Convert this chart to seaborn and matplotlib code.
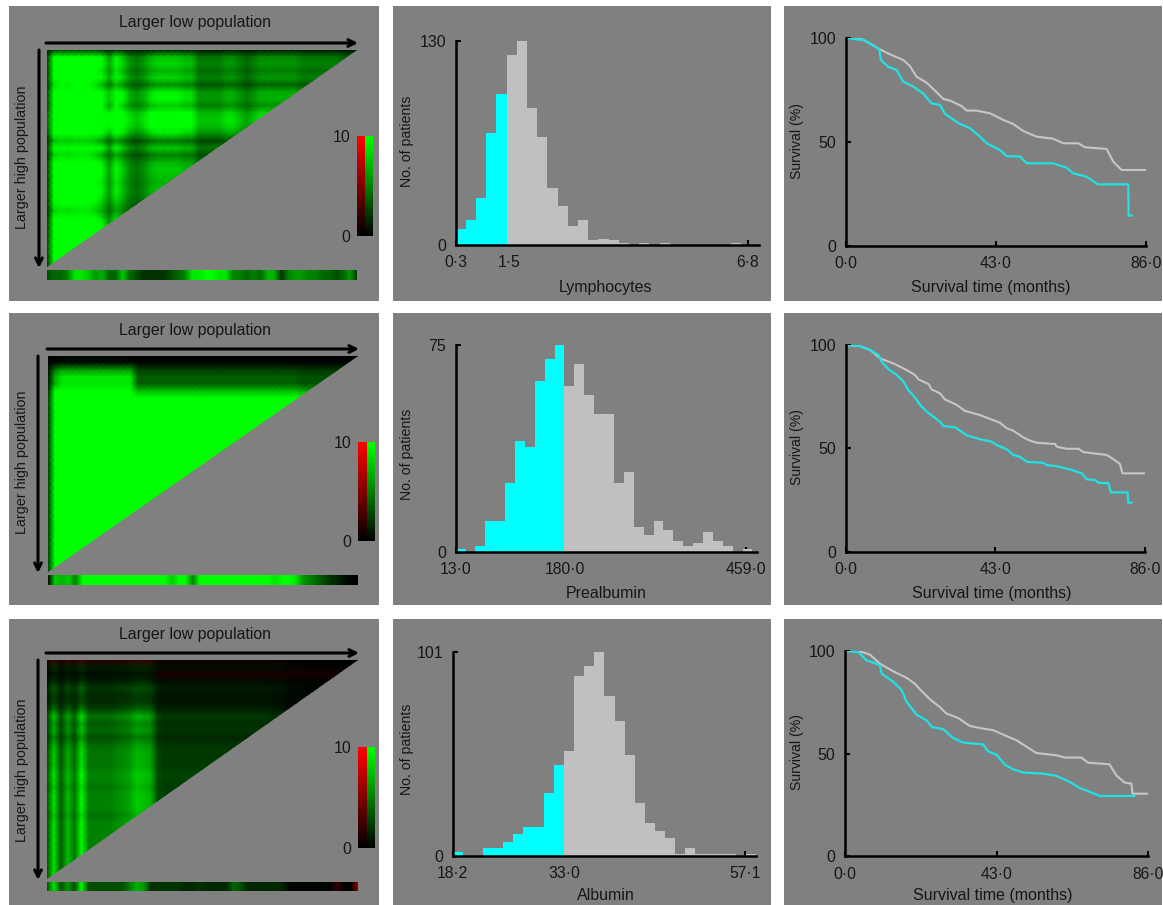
import numpy as np
import matplotlib
matplotlib.use("Agg")
import matplotlib.pyplot as plt
from matplotlib.colors import LinearSegmentedColormap
from matplotlib.patches import Polygon
import seaborn as sns

# Heatmap profiles (one value per column / per row)
heat_cols_1 = [3, 16, 18, 17, 18, 18, 18, 16, 13, 8, 13, 10, 7, 6, 7, 9, 10, 10, 10, 10, 9, 9, 6,
               6, 6, 6, 7, 7, 6, 5, 6, 7, 7, 7, 7, 7, 7, 6, 6, 6, 6, 6, 6, 5, 5, 5]
heat_rows_1 = [.15, .75, .85, .7, .85, .55, .95, 1, .8, 1.2, 1.3, 1.2, .9, .45, .8, .5, .7, .8,
               .75, .7, .75, .7, .6, .5, .65, .8, .8, .9, .9, .9, .7, .6]
strip_1 = [3, 4, 4, 5, 9, 9, 8, 6, 7, 4, 4, 8, 4, 3, 2, 2, 2, 2, 3, 4, 5, 9, 9, 10, 10, 9, 9,
           5, 5, 4, 5, 4, 7, 7, 2, 5, 6, 6, 5, 5, 4, 4, 3, 4, 6, 2]

heat_cols_2 = [1.5, 15, 20, 20, 20, 20, 20, 20, 20, 20, 20, 20, 20, 8, 8, 8, 8, 8, 8, 8, 8, 8, 8,
               8, 8, 8, 8, 8, 8, 8, 8, 8, 8, 8, 8, 8, 8, 7, 7, 7, 7, 7, 7, 7, 7, 7]
heat_rows_2 = [0, .03, .3, .45, .45, .9, 1.5, 1.5, 1.5, 1.5, 1.5, 1.5, 1.5, 1.5, 1.5, 1.5, 1.5,
               1.5, 1.5, 1.5, 1.5, 1.5, 1.5, 1.5, 1.5, 1.5, 1.5, 1.5, 1.5, 1.5, 1.5, 1.5]
strip_2 = [0, 8, 7, 8, 5, 10, 10, 10, 10, 10, 10, 10, 10, 10, 10, 10, 10, 10, 8, 10, 10, 5, 10,
           10, 10, 10, 10, 10, 10, 10, 10, 10, 10, 9, 10, 10, 9, 6, 5, 4, 3, 2, 1.5, .5, .3, 0]

heat_cols_3 = [3, 9, 3.5, 7.5, 4.5, 10, 5, 5, 5, 5, 5.5, 6, 6.5, 8, 7.5, 7, 3, 2.5, 2.5, 2.5, 2.5, 2.5, 2.5, 2.5, 2.5, 2.5,
               2.5, 2.5, 2.5, 2.5, 2.5, 2.5, 2.5, 2, 2, 1, 1, 1, .5, .5, .5, .5, .5, .5, .5, .5]
heat_rows_3 = [-.3, .2, .1, .2, .4, .3, .3, .5, .9, .7, .8, .6, .8, .9, .9, .9, 1, 1, .9, 1, 1, 1,
               .9, 1, 1, 1, 1, 1, 1, 1, 1, 1]
strip_3 = [3, 9, 3, 6, 3, 10, 3, 3, 3, 3, 3, 3, 5, 7, 6, 2, 2, 2, 2, 2, 1.5, 1.5, 2, 1.5, 1.5,
           1.5, 1.5, 4, 3, 1.5, 1.5, 1.5, 1.5, 1.5, 1.5, .2, .2, .2, .2, .2, .2, .2, -2, 0, 0, -6]

# Histogram counts per bin
lymph_counts = [10, 16, 30, 71, 96, 121, 130, 87, 69, 36, 25, 12, 16, 3, 4, 3, 1, 0, 1, 0, 1, 0,
                0, 0, 0, 0, 0, 1, 0, 0]
prealb_counts = [1, 0, 2, 11, 11, 25, 40, 38, 62, 70, 75, 60, 68, 57, 50, 50, 25, 29, 9, 6, 11, 8,
                 4, 2, 3, 7, 4, 2, 0, 1]
album_counts = [2, 0, 0, 4, 4, 7, 11, 14, 14, 31, 45, 52, 89, 94, 101, 79, 67, 50, 26, 16, 12, 9,
                1, 4, 1, 1, 1, 1, 0, 1]

# Survival curves (months, percent)
gray_t_1 = [0, 3.2, 5.1, 7.4, 9.8, 12.7, 16.5, 18.4, 20.3, 23.2, 25.6, 28, 29.9, 33.2, 34.7, 37.5,
            41.4, 45.2, 48, 50.9, 54.7, 59.5, 62.4, 66.7, 68.6, 74.8, 76.7, 79.1, 86]
gray_s_1 = [100, 100, 98.9, 96.8, 94.4, 92, 89.3, 86.4, 81.3, 78.4, 74.6, 70.6, 69.8, 67.2, 65, 65,
            63.7, 60.5, 58.6, 55.2, 52.5, 51.5, 49.3, 49.3, 47.4, 46.6, 40.5, 36.5, 36.5]
cyan_t_1 = [0, 3.2, 5.1, 7.4, 9.6, 10.1, 12.2, 14.6, 16.5, 19.4, 22.2, 24.6, 27, 28.5, 32.3, 35.6,
            38.5, 40.4, 44.2, 46.1, 50, 51.9, 59.5, 63.3, 65.2, 69, 72.3, 81, 81.1, 82.1]
cyan_s_1 = [100, 99.2, 98.9, 96.8, 94.4, 89.3, 86, 84.5, 78.9, 76.5, 73.3, 68.5, 67.7, 63.4, 59, 56.6,
            52.5, 49.3, 46.1, 43.2, 42.9, 39.7, 39.7, 37.6, 34.9, 33.3, 29.6, 29.6, 14.6, 14.6]

gray_t_2 = [0, 4.1, 7, 9.9, 13.7, 17.5, 19.9, 20.9, 23.8, 24.7, 27.1, 28.5, 31.9, 34.3, 38.6, 44.3,
            46.3, 48.2, 51, 53, 54.9, 60.2, 60.6, 63.5, 66.9, 68.3, 75, 76.9, 78.8, 79.5, 86]
gray_s_2 = [100, 99.5, 97.6, 93.5, 91.1, 87.9, 85.5, 83.4, 81.1, 78.5, 76.6, 73.7, 71, 68.1, 66.1, 62.4,
            59.7, 58.5, 55.3, 53.7, 52.7, 52.1, 50.8, 49.8, 49.8, 48.2, 46.8, 44.8, 42.4, 37.9, 37.9]
cyan_t_2 = [0, 4.1, 7, 9.4, 10.3, 12.3, 14.7, 16.6, 18, 19.9, 21.4, 23.3, 25.2, 27.1, 28.1, 31.4, 34.8,
            38.6, 42, 43.4, 46.3, 48.2, 50.1, 52, 56.8, 57.8, 60.6, 64.5, 67.8, 69.3, 71.6, 72.6, 75.5,
            76.2, 81, 81.2, 82.2]
cyan_s_2 = [100, 99.5, 97.6, 95.2, 92, 88.3, 85.5, 82.3, 78.2, 74.7, 71, 67.7, 65.3, 62.9, 60.8, 60.2, 56.3,
            54.4, 53.2, 51.6, 49.5, 46.8, 45.9, 43.5, 43, 41.9, 41.4, 39.8, 37.9, 35, 34.7, 33.4, 33.1,
            28.7, 28.7, 23.7, 23.7]

gray_t_3 = [0, 4.3, 7.1, 9.9, 13.7, 17.5, 19.8, 21.3, 24.1, 26.9, 28.8, 32.1, 35.4, 38.3, 42.1, 45.8,
            48.7, 54.3, 60, 62.4, 67.1, 69, 75.1, 77, 79.4, 81.3, 81.6, 86]
gray_s_3 = [100, 99.8, 98.2, 93.8, 90.1, 86.9, 84.1, 81.3, 76.5, 72.7, 69.5, 67.4, 63.5, 62.5, 61.4, 58.6,
            56.5, 50.3, 49.2, 48.1, 48.1, 45.6, 44.8, 39.4, 35.9, 35.4, 30.5, 30.5]
cyan_t_3 = [0, 3.8, 6.1, 9.9, 10.4, 13.7, 16.1, 17.5, 20.3, 23.2, 24.6, 27.9, 30.7, 33.6, 39.2, 40.6,
            43, 45.4, 47.7, 50.6, 56.2, 60, 63.8, 66.6, 69.5, 72.3, 82.2]
cyan_s_3 = [100, 99.5, 95.5, 93.1, 89, 85, 80.9, 75.2, 69, 66.2, 63, 61.9, 57.6, 55.4, 54.5, 51.1,
            49.5, 44.6, 42.4, 40.8, 40.3, 39.2, 36.2, 33.3, 31.4, 29.4, 29.4]

W, H = 1163, 905
BG = "#808080"
CYAN = "#00FFFF"
BAR_GRAY = "#C0C0C0"
LINE_CYAN = "#1FE3E3"
LINE_GRAY = "#C6C6C6"
TEXT = "#161616"

sns.set_theme(style="white")
plt.rcParams["font.family"] = ["Liberation Sans", "DejaVu Sans"]
plt.rcParams["text.color"] = TEXT
plt.rcParams["axes.labelcolor"] = TEXT
plt.rcParams["xtick.color"] = "black"
plt.rcParams["ytick.color"] = "black"

fig = plt.figure(figsize=(W / 100, H / 100), dpi=100, facecolor="white")


def px_axes(x0, y0, x1, y1, zorder=1):
    return fig.add_axes([x0 / W, 1 - y1 / H, (x1 - x0) / W, (y1 - y0) / H], zorder=zorder)


# Overlay in pixel coordinates for the arrows and free text
overlay = px_axes(0, 0, W, H, zorder=5)
overlay.set_xlim(0, W)
overlay.set_ylim(H, 0)
overlay.axis("off")

# Gray panels
col_px = [(9, 379), (393, 771), (784, 1162)]
row_px = [(6, 301), (313, 605), (619, 905)]
for cx in col_px:
    for ry in row_px:
        bg = px_axes(cx[0], ry[0], cx[1], ry[1], zorder=0)
        bg.set_facecolor(BG)
        bg.set_xticks([])
        bg.set_yticks([])
        sns.despine(ax=bg, left=True, bottom=True)

rg_cmap = LinearSegmentedColormap.from_list("rg", ["#FF0000", "#000000", "#00FF00"])
heat_kws = dict(cmap=rg_cmap, vmin=-10, vmax=10, cbar=False, xticklabels=False, yticklabels=False)

# ----- left column: triangular heatmaps -----
heat_panels = [
    (heat_cols_1, heat_rows_1, strip_1, (47, 50, 357, 267), (270, 280), (357, 373, 136, 236), 43, 39, 23, 157),
    (heat_cols_2, heat_rows_2, strip_2, (48, 356, 358, 572), (575, 585), (358, 375, 442, 541), 349, 38, 330, 462),
    (heat_cols_3, heat_rows_3, strip_3, (47, 660, 358, 879), (882, 891), (358, 375, 747, 848), 653, 38, 634, 770),
]

for i, (cols, rows, strip, box, sy, cb, arrow_y, arrow_x, title_y, side_y) in enumerate(heat_panels):
    ax = px_axes(box[0], box[1], box[2], box[3], zorder=2)
    mat = np.outer(rows, cols) * 1.0
    if i == 2:
        # faint red band near the top right of the albumin map
        mat[2, 16:] = -1
    # gouraud shading gives the soft look of the original
    sns.heatmap(mat, ax=ax, shading="gouraud", **heat_kws)
    nc, nr = len(cols) - 1, len(rows) - 1
    ax.set_xlim(0, nc)
    ax.set_ylim(nr, 0)
    ax.patch.set_alpha(0)
    tri = Polygon([(0, 0), (nc, 0), (0, nr)], transform=ax.transData, fc="none", ec="none")
    ax.add_patch(tri)
    ax.collections[0].set_clip_path(tri)

    sax = px_axes(box[0], sy[0], box[2], sy[1], zorder=2)
    sns.heatmap(np.array([strip, strip], dtype=float), ax=sax, shading="gouraud", **heat_kws)
    sax.set_xlim(0, len(strip) - 1)
    sax.set_ylim(1, 0)

    # colour key, red and green columns
    cax = px_axes(cb[0], cb[2], cb[1], cb[3], zorder=2)
    key = np.linspace(10, 0, 60)
    sns.heatmap(np.column_stack([-key, key]), ax=cax, **heat_kws)
    cax.set_yticks([0, 60])
    cax.set_yticklabels(["10", "0"], rotation=0, fontsize=11.5, color=TEXT)
    cax.tick_params(axis="y", length=0, pad=5, left=False)

    overlay.annotate("", xy=(box[2] + 1, arrow_y), xytext=(box[0] - 1, arrow_y),
                     arrowprops=dict(arrowstyle="->", lw=2.2, color="black", shrinkA=0, shrinkB=0))
    overlay.annotate("", xy=(arrow_x, box[3] + 1), xytext=(arrow_x, box[1]),
                     arrowprops=dict(arrowstyle="->", lw=2.2, color="black", shrinkA=0, shrinkB=0))
    overlay.text(195, title_y, "Larger low population", ha="center", va="center", fontsize=11.4)
    overlay.text(22, side_y, "Larger high population", ha="center", va="center", rotation=90, fontsize=10.4)


def style_axis(ax, xticks, xlabels, yticks, ylabels, xlabel, ylabel, xlab_px, ylab_px, ylab_size):
    ax.patch.set_alpha(0)
    sns.despine(ax=ax)
    for side in ["left", "bottom"]:
        ax.spines[side].set_color("black")
        ax.spines[side].set_linewidth(1.8)
    ax.set_axisbelow(True)
    ax.set_xticks(xticks)
    ax.set_xticklabels(xlabels, fontsize=11.3, color=TEXT)
    ax.set_yticks(yticks)
    ax.set_yticklabels(ylabels, fontsize=11.5, color=TEXT)
    ax.tick_params(axis="x", direction="in", length=3.5, width=1.5, pad=7.5, bottom=True)
    ax.tick_params(axis="y", direction="in", length=3.5, width=1.5, pad=7, left=True)
    ax.set_xlabel(xlabel, fontsize=11.5, va="center", ha="center")
    ax.set_ylabel(ylabel, fontsize=ylab_size, va="center", ha="center")
    ax.xaxis.set_label_coords(xlab_px[0], xlab_px[1], transform=overlay.transData)
    ax.yaxis.set_label_coords(ylab_px[0], ylab_px[1], transform=overlay.transData)


# ----- middle column: histograms -----
hist_panels = [
    (lymph_counts, 0.3, 0.227, 5, (455.7, 40.7, 759, 245), 7.05, 130,
     [0.3, 1.5, 6.8], ["0·3", "1·5", "6·8"], ["0", "130"], "Lymphocytes", (606, 287), (407, 141)),
    (prealb_counts, 13.0, 15.18, 11, (455.7, 345, 756.7, 551.7), 475, 75,
     [13, 180, 459], ["13·0", "180·0", "459·0"], ["0", "75"], "Prealbumin", (606, 593), (407, 454)),
    (album_counts, 18.2, 1.345, 11, (452.7, 652, 755.7, 855.7), 58.5, 101,
     [18.2, 33, 57.1], ["18·2", "33·0", "57·1"], ["0", "101"], "Albumin", (606, 895), (407, 749)),
]

for counts, start, width, cut, box, xmax, ymax, ticks, labels, ylabels, name, xlab_px, ylab_px in hist_panels:
    ax = px_axes(box[0], box[1], box[2], box[3], zorder=2)
    counts = np.array(counts)
    edges = start + width * np.arange(len(counts) + 1)
    centers = (edges[:-1] + edges[1:]) / 2
    sns.histplot(x=centers[:cut], weights=counts[:cut], bins=list(edges[:cut + 1]), element="step",
                 color=CYAN, alpha=1, linewidth=0, ax=ax)
    sns.histplot(x=centers[cut:], weights=counts[cut:], bins=list(edges[cut:]), element="step",
                 color=BAR_GRAY, alpha=1, linewidth=0, ax=ax)
    ax.set_xlim(start, xmax)
    ax.set_ylim(0, ymax)
    style_axis(ax, ticks, labels, [0, ymax], ylabels, name, "No. of patients", xlab_px, ylab_px, 10.2)

# ----- right column: survival curves -----
km_panels = [
    (gray_t_1, gray_s_1, cyan_t_1, cyan_s_1, (845.7, 37.7, 1145.7, 246), (991, 287), (797, 141)),
    (gray_t_2, gray_s_2, cyan_t_2, cyan_s_2, (845.7, 345, 1145, 551.7), (992, 593), (797, 447)),
    (gray_t_3, gray_s_3, cyan_t_3, cyan_s_3, (845, 651, 1148, 856.3), (993, 895), (797, 752)),
]

for gt, gs, ct, cs, box, xlab_px, ylab_px in km_panels:
    ax = px_axes(box[0], box[1], box[2], box[3], zorder=2)
    sns.lineplot(x=gt, y=gs, color=LINE_GRAY, lw=1.5, estimator=None, sort=False, ax=ax)
    sns.lineplot(x=ct, y=cs, color=LINE_CYAN, lw=1.6, estimator=None, sort=False, ax=ax)
    ax.set_xlim(0, 86)
    ax.set_ylim(0, 100)
    style_axis(ax, [0, 43, 86], ["0·0", "43·0", "86·0"], [0, 50, 100], ["0", "50", "100"],
               "Survival time (months)", "Survival (%)", xlab_px, ylab_px, 10.1)

fig.savefig("out.png", dpi=100, facecolor="white")
